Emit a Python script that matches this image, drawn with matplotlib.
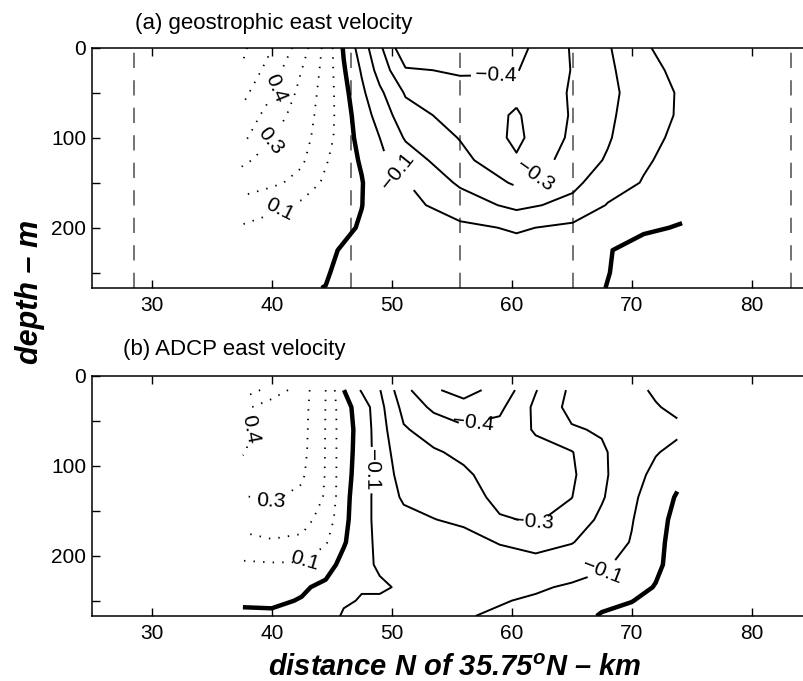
import numpy as np
import matplotlib.pyplot as plt

plt.rcParams['font.family'] = ['Liberation Sans', 'DejaVu Sans']
plt.rcParams['mathtext.fontset'] = 'custom'
plt.rcParams['mathtext.rm'] = 'Liberation Sans:bold:italic'
plt.rcParams['mathtext.it'] = 'Liberation Sans:bold:italic'

# station positions (km) used for the geostrophic calculation
station_x = [28.5, 46.6, 55.7, 65.1, 83.3]

# (a) geostrophic east velocity (m/s); one depth profile per column position
geo_x = [37.5, 40, 42.5, 44.5, 46, 47.5, 49, 51.15, 55.7, 60.4, 65.1, 68, 71, 74.2]
geo_z = [0, 25, 50, 75, 100, 125, 150, 175, 200, 225, 250, 267]
geo_cols = [
    [0.62, 0.595, 0.53, 0.48, 0.425, 0.32, 0.25, 0.165, 0.09, 0.05, 0.03, 0.02],
    [0.505, 0.45, 0.41, 0.35, 0.305, 0.26, 0.22, 0.12, 0.07, 0.05, 0.03, 0.02],
    [0.35, 0.30, 0.27, 0.25, 0.235, 0.215, 0.17, 0.08, 0.06, 0.04, 0.02, 0.01],
    [0.17, 0.165, 0.16, 0.155, 0.145, 0.11, 0.08, 0.05, 0.03, 0.02, 0.01, -0.002],
    [-0.01, 0.01, 0.03, 0.04, 0.04, 0.04, 0.04, 0.03, 0.02, -0.01, -0.03, -0.04],
    [-0.15, -0.11, -0.08, -0.05, -0.03, -0.01, 0.005, 0.002, -0.01, -0.03, -0.045, -0.05],
    [-0.28, -0.24, -0.18, -0.14, -0.10, -0.08, -0.065, -0.05, -0.045, -0.04, -0.035, -0.03],
    [-0.48, -0.39, -0.31, -0.26, -0.21, -0.15, -0.095, -0.07, -0.05, -0.04, -0.035, -0.03],
    [-0.46, -0.41, -0.37, -0.34, -0.305, -0.27, -0.215, -0.15, -0.08, -0.055, -0.04, -0.035],
    [-0.43, -0.405, -0.38, -0.41, -0.42, -0.39, -0.315, -0.225, -0.11, -0.07, -0.05, -0.04],
    [-0.29, -0.295, -0.29, -0.29, -0.28, -0.255, -0.225, -0.17, -0.08, -0.05, -0.04, -0.03],
    [-0.21, -0.22, -0.23, -0.22, -0.21, -0.19, -0.14, -0.095, -0.035, -0.004, -0.002, 0.002],
    [-0.11, -0.13, -0.14, -0.135, -0.125, -0.11, -0.095, -0.06, -0.01, 0.025, 0.03, 0.035],
    [-0.06, -0.075, -0.09, -0.09, -0.08, -0.07, -0.05, -0.02, 0.005, 0.03, 0.04, 0.045],
]

# (b) ADCP east velocity (m/s)
adcp_x = [37.6, 40, 42.5, 44.5, 46, 47.5, 49, 51, 53.5, 56, 59, 62, 65, 67.5, 70, 72, 73.8]
adcp_z = [16, 35, 60, 85, 110, 135, 160, 185, 210, 235, 250, 267]
adcp_cols = [
    [0.56, 0.425, 0.415, 0.405, 0.37, 0.295, 0.24, 0.17, 0.085, 0.04, 0.015, -0.02],
    [0.46, 0.345, 0.355, 0.36, 0.33, 0.31, 0.26, 0.19, 0.09, 0.04, 0.015, -0.015],
    [0.35, 0.34, 0.335, 0.33, 0.315, 0.28, 0.235, 0.18, 0.09, 0.012, -0.005, -0.03],
    [0.2, 0.198, 0.197, 0.196, 0.195, 0.19, 0.16, 0.11, 0.04, -0.02, -0.04, -0.06],
    [0.002, 0.03, 0.035, 0.035, 0.035, 0.033, 0.025, 0.01, -0.03, -0.07, -0.09, -0.11],
    [-0.11, -0.04, -0.03, -0.035, -0.045, -0.065, -0.065, -0.07, -0.08, -0.095, -0.105, -0.12],
    [-0.195, -0.17, -0.16, -0.15, -0.14, -0.13, -0.13, -0.12, -0.11, -0.09, -0.11, -0.12],
    [-0.37, -0.33, -0.29, -0.26, -0.24, -0.215, -0.17, -0.14, -0.13, -0.11, -0.12, -0.13],
    [-0.49, -0.42, -0.34, -0.29, -0.26, -0.23, -0.198, -0.18, -0.16, -0.14, -0.13, -0.12],
    [-0.53, -0.47, -0.38, -0.32, -0.285, -0.25, -0.215, -0.17, -0.14, -0.12, -0.11, -0.105],
    [-0.47, -0.42, -0.37, -0.35, -0.34, -0.33, -0.29, -0.205, -0.16, -0.12, -0.105, -0.09],
    [-0.305, -0.28, -0.29, -0.33, -0.34, -0.33, -0.31, -0.23, -0.17, -0.11, -0.09, -0.08],
    [-0.18, -0.17, -0.21, -0.305, -0.315, -0.302, -0.26, -0.205, -0.14, -0.09, -0.07, -0.05],
    [-0.15, -0.16, -0.19, -0.215, -0.22, -0.21, -0.18, -0.15, -0.115, -0.07, -0.03, 0.01],
    [-0.12, -0.13, -0.14, -0.14, -0.13, -0.115, -0.105, -0.095, -0.07, -0.035, -0.003, 0.03],
    [-0.09, -0.105, -0.12, -0.105, -0.08, -0.06, -0.04, -0.03, -0.02, 0.005, 0.03, 0.05],
    [-0.06, -0.085, -0.115, -0.08, -0.03, 0.01, 0.03, 0.04, 0.04, 0.05, 0.06, 0.07],
]

pos_levels = [0.1, 0.2, 0.3, 0.4, 0.5, 0.6]
neg_levels = [-0.5, -0.4, -0.3, -0.2, -0.1]

# where the contour labels sit (km, m)
geo_pos_labels = [(40.4, 45), (39.9, 103), (40.7, 180)]
geo_neg_labels = [(50.6, 136), (62.0, 143), (58.7, 34)]
adcp_pos_labels = [(38.2, 60), (39.9, 141), (42.6, 200)]
adcp_neg_labels = [(48.2, 105), (56.8, 49), (61.8, 166), (67.6, 220)]

x_ticks = [30, 40, 50, 60, 70, 80]
FS = 15


def fmt(v):
    return f'{v:.1f}'.replace('-', '\u2212')


def draw_panel(ax, x, z, cols, pos_lab, neg_lab):
    u = np.array(cols).T
    cp = ax.contour(x, z, u, levels=pos_levels, colors='k',
                    linewidths=1.3, linestyles=[(0, (0.8, 4.5))])
    ax.contour(x, z, u, levels=[0], colors='k', linewidths=3.2)
    cn = ax.contour(x, z, u, levels=neg_levels, colors='k',
                    linewidths=1.4, linestyles='solid')
    ax.clabel(cp, fmt=fmt, fontsize=FS, manual=pos_lab, inline_spacing=4)
    ax.clabel(cn, fmt=fmt, fontsize=FS, manual=neg_lab, inline_spacing=4)

    ax.set_xlim(25.0, 84.36)
    ax.set_ylim(266.7, 0)
    ax.set_xticks(x_ticks)
    ax.set_yticks([0, 100, 200])
    ax.set_yticks([50, 150, 250], minor=True)
    ax.tick_params(axis='x', which='both', direction='in', top=True,
                   length=6, width=1, labelsize=FS, pad=6)
    ax.tick_params(axis='y', which='both', direction='in', right=False,
                   length=6, width=1, labelsize=FS, pad=4)
    ax.spines['right'].set_visible(False)
    for s in ['left', 'top', 'bottom']:
        ax.spines[s].set_linewidth(1.1)


fig = plt.figure(figsize=(8.04, 6.81), dpi=100)
W, H = 804, 681
ax1 = fig.add_axes([91.7 / W, 1 - 287.7 / H, (W - 91.7) / W, 240 / H])
ax2 = fig.add_axes([91.7 / W, 1 - 615.7 / H, (W - 91.7) / W, 240 / H])

for sx in station_x:
    ax1.axvline(sx, color='0.3', lw=1.1, dashes=(10, 8), zorder=1)

draw_panel(ax1, geo_x, geo_z, geo_cols, geo_pos_labels, geo_neg_labels)
draw_panel(ax2, adcp_x, adcp_z, adcp_cols, adcp_pos_labels, adcp_neg_labels)

fig.text(135 / W, 1 - 23 / H, '(a) geostrophic east velocity', fontsize=16,
         ha='left', va='center')
fig.text(123 / W, 1 - 350 / H, '(b) ADCP east velocity', fontsize=16,
         ha='left', va='center')
fig.text(30 / W, 1 - 291.5 / H, 'depth \u2013 m', fontsize=22, fontweight='bold',
         style='italic', rotation=90, ha='center', va='center')
fig.text(454.5 / W, 1 - 667.6 / H, 'distance N of 35.75$^o$N \u2013 km', fontsize=21,
         fontweight='bold', style='italic', ha='center', va='center')

fig.savefig('out.png', dpi=100)
